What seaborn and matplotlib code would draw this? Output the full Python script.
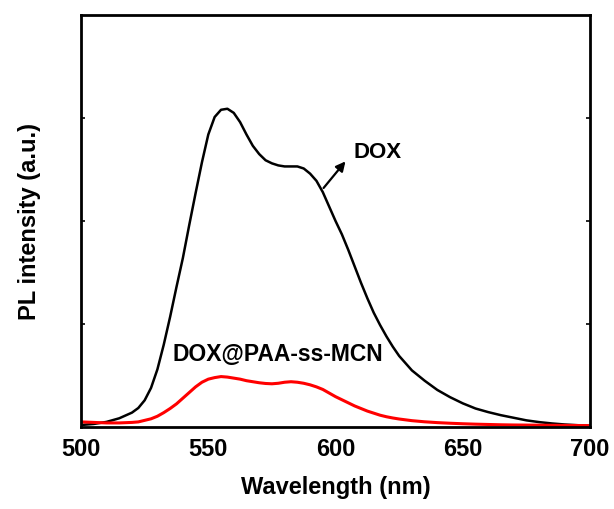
import matplotlib
matplotlib.use("Agg")
import matplotlib.pyplot as plt
import seaborn as sns
import pandas as pd
from matplotlib.ticker import MultipleLocator

wavelength = [500, 505, 510, 515, 520, 522.5, 525, 527.5, 530, 532.5, 535, 537.5, 540, 542.5,
              545, 547.5, 550, 552.5, 555, 557.5, 560, 562.5, 565, 567.5, 570, 572.5, 575, 577.5,
              580, 582.5, 585, 587.5, 590, 592.5, 595, 597.5, 600, 602.5, 605, 607.5, 610, 612.5,
              615, 617.5, 620, 622.5, 625, 627.5, 630, 635, 640, 645, 650, 655, 660, 665, 670,
              675, 680, 685, 690, 695, 700]
dox = [0.02, 0.03, 0.05, 0.085, 0.14, 0.185, 0.26, 0.38, 0.56, 0.80, 1.07, 1.36, 1.64, 1.96,
       2.27, 2.57, 2.84, 3.01, 3.08, 3.09, 3.05, 2.96, 2.84, 2.73, 2.65, 2.59, 2.56, 2.54,
       2.53, 2.53, 2.53, 2.51, 2.46, 2.39, 2.28, 2.14, 2.00, 1.87, 1.72, 1.56, 1.40, 1.25,
       1.11, 0.99, 0.88, 0.78, 0.69, 0.62, 0.55, 0.45, 0.36, 0.29, 0.23, 0.18, 0.145, 0.115, 0.09,
       0.065, 0.048, 0.035, 0.025, 0.018, 0.012]
dox_paa = [0.05, 0.045, 0.04, 0.04, 0.045, 0.05, 0.065, 0.08, 0.105, 0.14, 0.18, 0.225, 0.28, 0.335,
           0.39, 0.435, 0.465, 0.48, 0.49, 0.485, 0.475, 0.465, 0.45, 0.44, 0.43, 0.423, 0.42, 0.425,
           0.435, 0.44, 0.435, 0.425, 0.41, 0.39, 0.365, 0.33, 0.295, 0.265, 0.235, 0.205, 0.18, 0.155,
           0.135, 0.115, 0.10, 0.088, 0.078, 0.07, 0.062, 0.051, 0.043, 0.037, 0.032, 0.028, 0.025, 0.022, 0.02,
           0.019, 0.018, 0.017, 0.016, 0.015, 0.014]

series_names = ["DOX", "DOX@PAA-ss-MCN"]
xlabel = "Wavelength (nm)"
ylabel = "PL intensity (a.u.)"
xticks = [500, 550, 600, 650, 700]

df = pd.concat([
    pd.DataFrame({"Wavelength": wavelength, "PL": dox, "Sample": series_names[0]}),
    pd.DataFrame({"Wavelength": wavelength, "PL": dox_paa, "Sample": series_names[1]}),
])

sns.set_style("white")
plt.rcParams["font.family"] = ["Liberation Sans", "DejaVu Sans"]
plt.rcParams["font.weight"] = "bold"
plt.rcParams["text.color"] = "black"
plt.rcParams["axes.labelcolor"] = "black"
plt.rcParams["xtick.color"] = "black"
plt.rcParams["ytick.color"] = "black"
plt.rcParams["lines.solid_joinstyle"] = "round"
plt.rcParams["lines.solid_capstyle"] = "round"

fig = plt.figure(figsize=(6.14, 5.09), dpi=100)
ax = fig.add_axes([0.132, 0.161, 0.829, 0.8095])

sns.lineplot(data=df, x="Wavelength", y="PL", hue="Sample",
             palette={series_names[0]: "black", series_names[1]: "#ff0000"},
             linewidth=1.8, legend=False, ax=ax, sort=False)
ax.lines[1].set_linewidth(2.2)

ax.set_xlim(500, 700)
ax.set_ylim(0, 4)
ax.set_xticks(xticks)
ax.set_xticklabels([str(t) for t in xticks])
ax.xaxis.set_minor_locator(MultipleLocator(25))
ax.set_yticks([1, 2, 3])
ax.set_yticklabels([])

for s in ax.spines.values():
    s.set_visible(True)
    s.set_linewidth(2.0)
    s.set_color("black")

ax.tick_params(axis="x", which="major", direction="out", length=5, width=1.5,
               labelsize=17, pad=3, colors="black")
ax.tick_params(axis="x", which="minor", direction="out", length=2.5, width=1.2)
ax.tick_params(axis="y", which="major", direction="in", length=3, width=1.2,
               left=True, right=True)

ax.set_xlabel(xlabel, fontsize=17, fontweight="bold", labelpad=11)
ax.set_ylabel(ylabel, fontsize=17, fontweight="bold", labelpad=25)

ax.text(607, 2.61, series_names[0], fontsize=16, fontweight="bold", ha="left", va="baseline")
ax.annotate("", xy=(604.6, 2.6), xytext=(594.6, 2.3),
            arrowprops=dict(arrowstyle="-|>", color="black", lw=1.6, mutation_scale=14))
ax.text(536, 0.64, series_names[1], fontsize=16.5, fontweight="bold", ha="left", va="baseline")

fig.savefig("out.png", dpi=100)
